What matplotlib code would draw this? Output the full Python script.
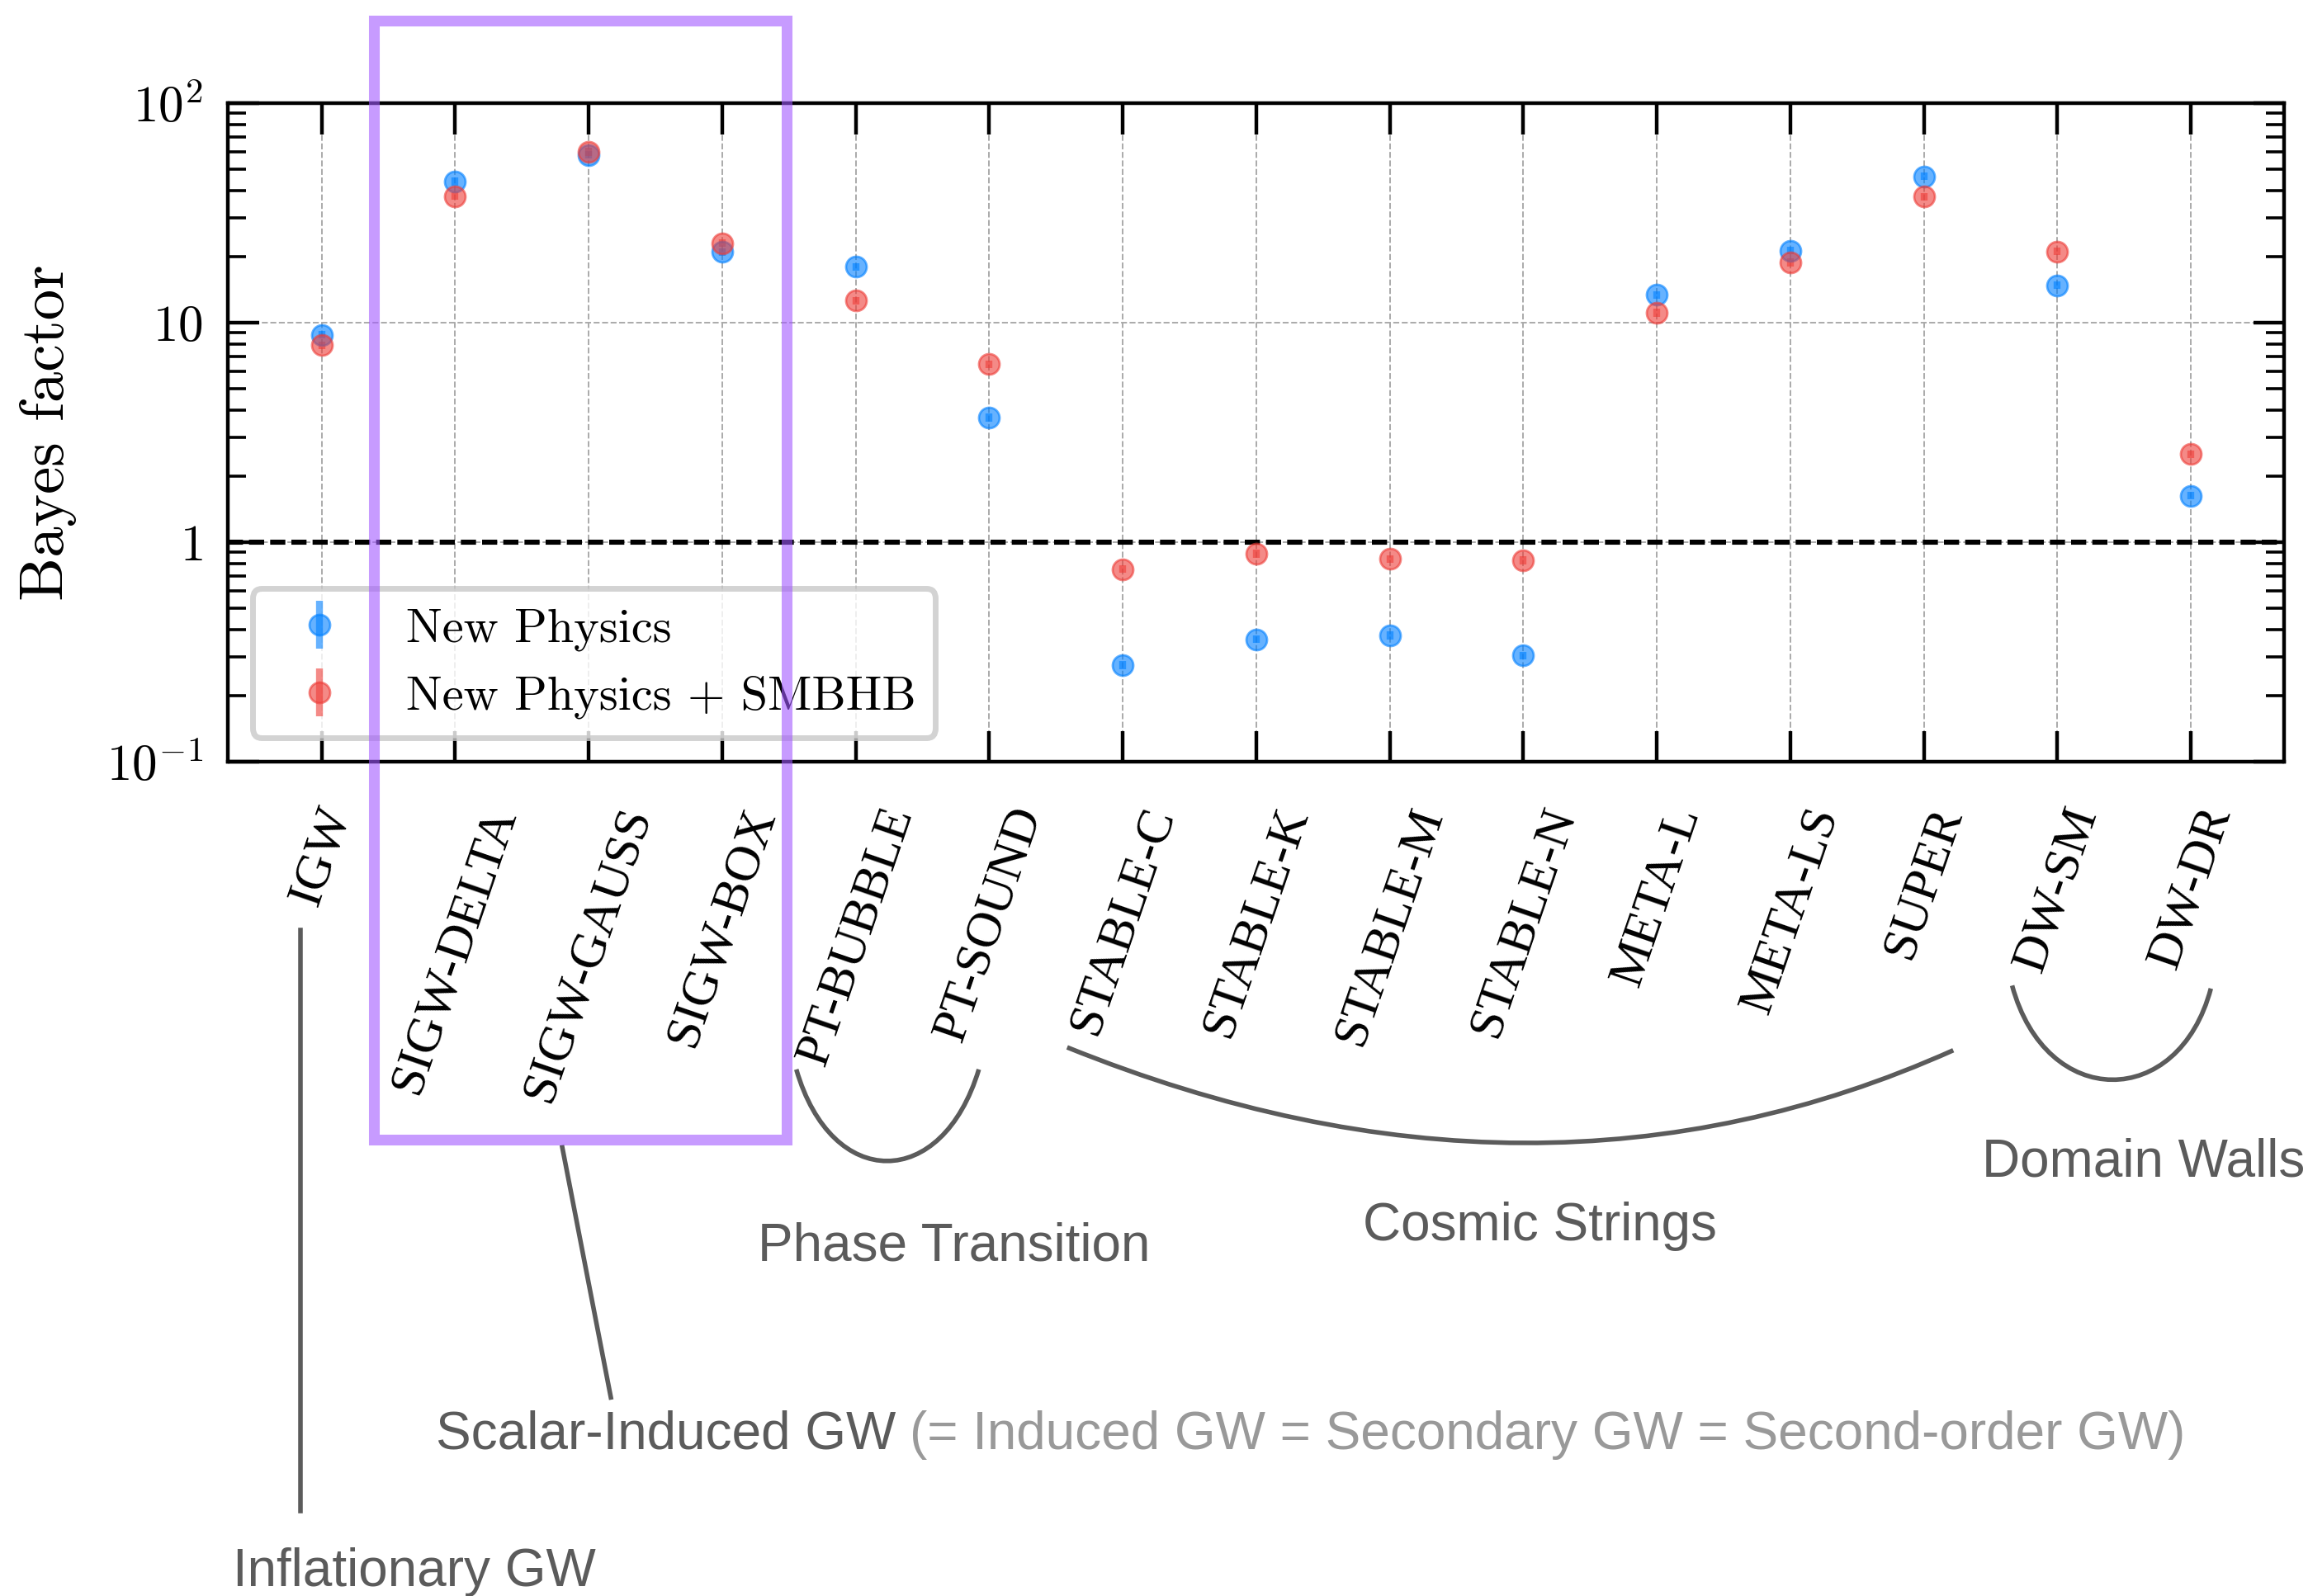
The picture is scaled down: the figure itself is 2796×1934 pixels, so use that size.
import numpy as np
import matplotlib
matplotlib.use('Agg')
import matplotlib.pyplot as plt
from matplotlib.patches import Rectangle, PathPatch
from matplotlib.path import Path
from matplotlib.lines import Line2D
from matplotlib.ticker import NullFormatter

plt.rcParams['mathtext.fontset'] = 'cm'
plt.rcParams['font.family'] = ['cmr10', 'DejaVu Serif']
plt.rcParams['axes.formatter.use_mathtext'] = True

models = ['IGW', 'SIGW-DELTA', 'SIGW-GAUSS', 'SIGW-BOX', 'PT-BUBBLE', 'PT-SOUND',
          'STABLE-C', 'STABLE-K', 'STABLE-M', 'STABLE-N', 'META-L', 'META-LS',
          'SUPER', 'DW-SM', 'DW-DR']

# Bayes factors, new physics only
bf_np = [8.8, 44.0, 58.0, 21.0, 18.0, 3.7, 0.276, 0.362, 0.377, 0.305,
         13.4, 21.3, 46.4, 14.8, 1.63]
err_np = [0.35, 1.8, 2.3, 0.8, 0.7, 0.15, 0.011, 0.014, 0.015, 0.012,
          0.5, 0.8, 1.9, 0.6, 0.065]

# Bayes factors, new physics + SMBHB
bf_smbhb = [7.9, 37.7, 60.0, 23.0, 12.6, 6.47, 0.754, 0.888, 0.841, 0.828,
            11.1, 18.8, 37.5, 21.1, 2.52]
err_smbhb = [0.3, 1.5, 2.4, 0.9, 0.5, 0.26, 0.03, 0.035, 0.034, 0.033,
             0.45, 0.75, 1.5, 0.85, 0.1]

ytick_vals = [0.1, 1, 10, 100]
ytick_labels = [r'$10^{-1}$', r'$1$', r'$10$', r'$10^{2}$']

W, H = 1568.0, 1085.0  # layout reference grid


def fx(px):
    return px / W


def fy(py):
    return 1 - py / H


fig = plt.figure(figsize=(13.98, 9.67), dpi=200)
ax = fig.add_axes([fx(155), fy(518), fx(1552) - fx(155), fy(70) - fy(518)])

x = np.arange(len(models))
ax.errorbar(x, bf_np, yerr=err_np, fmt='o', color='#0080ff', ms=9,
            elinewidth=3, alpha=0.6, capsize=0, label='New Physics', zorder=3)
ax.errorbar(x, bf_smbhb, yerr=err_smbhb, fmt='o', color='#ee3c37', ms=9,
            elinewidth=3, alpha=0.6, capsize=0, label='New Physics + SMBHB', zorder=3)

ax.axhline(1, color='k', ls='--', lw=2.2, dashes=(3, 1.2), zorder=2)

ax.set_yscale('log')
ax.set_ylim(0.1, 100)
ax.set_xlim(-0.7, len(models) - 0.3)
ax.set_yticks(ytick_vals, labels=ytick_labels)
ax.yaxis.set_minor_formatter(NullFormatter())
ax.set_xticks(x)
ax.set_xticklabels(models, rotation=71, ha='center', va='top', fontsize=17,
                   family='Liberation Serif')

ax.grid(True, which='major', ls='--', color='#aaaaaa', lw=0.7, zorder=1)
ax.tick_params(which='both', direction='in', top=True, right=True)
ax.tick_params(which='major', length=13.5, width=1.6, labelsize=22)
ax.tick_params(axis='x', which='major', pad=17)
ax.tick_params(axis='y', which='major', pad=11)
ax.tick_params(which='minor', length=8, width=1.3)
for s in ax.spines.values():
    s.set_linewidth(1.6)

ax.set_ylabel('Bayes factor', fontsize=27)
ax.yaxis.set_label_coords((52 - 155) / (1552 - 155), 0.5)

leg = ax.legend(loc='lower left', fontsize=21, framealpha=0.8,
                edgecolor='#c8c8c8', fancybox=True)
leg.get_frame().set_linewidth(2.5)

# annotations on top of the figure
purple = Rectangle((fx(254), fy(775)), fx(534.5) - fx(254), fy(14) - fy(775),
                   transform=fig.transFigure, fill=False, edgecolor='#a259ff',
                   alpha=0.6, lw=4.7, joinstyle='miter', zorder=10)
fig.patches.append(purple)

gray = '#5b5b5b'
light = '#999999'
tfont = dict(family='Liberation Sans', fontsize=23)


def curve(pts, codes):
    verts = [(fx(a), fy(b)) for a, b in pts]
    p = PathPatch(Path(verts, codes), transform=fig.transFigure, fill=False,
                  edgecolor=gray, lw=2)
    fig.patches.append(p)


C4 = [Path.MOVETO, Path.CURVE4, Path.CURVE4, Path.CURVE4]
C3 = [Path.MOVETO, Path.CURVE3, Path.CURVE3]
curve([(541, 727), (565, 810), (640, 810), (665, 727)], C4)
curve([(725, 712), (1044, 841), (1327, 714)], C3)
curve([(1367, 670), (1390, 755), (1480, 755), (1502, 672)], C4)

fig.add_artist(Line2D([fx(204), fx(204)], [fy(632), fy(1027)],
                      transform=fig.transFigure, color=gray, lw=2))
fig.add_artist(Line2D([fx(382), fx(415)], [fy(780), fy(950)],
                      transform=fig.transFigure, color=gray, lw=2))

fig.text(fx(648), fy(857), 'Phase Transition', ha='center', va='baseline', color=gray, **tfont)
fig.text(fx(1046), fy(843), 'Cosmic Strings', ha='center', va='baseline', color=gray, **tfont)
fig.text(fx(1456), fy(800), 'Domain Walls', ha='center', va='baseline', color=gray, **tfont)
fig.text(fx(158), fy(1078), 'Inflationary GW', ha='left', va='baseline', color=gray, **tfont)
t1 = fig.text(fx(296), fy(985), 'Scalar-Induced GW', ha='left', va='baseline',
              color=gray, **tfont)
fig.canvas.draw()
bb = t1.get_window_extent().transformed(fig.transFigure.inverted())
fig.text(bb.x1 + 0.006, fy(985), '(= Induced GW = Secondary GW = Second-order GW)',
         ha='left', va='baseline', color=light, **tfont)

fig.savefig('out.png', dpi=200)
